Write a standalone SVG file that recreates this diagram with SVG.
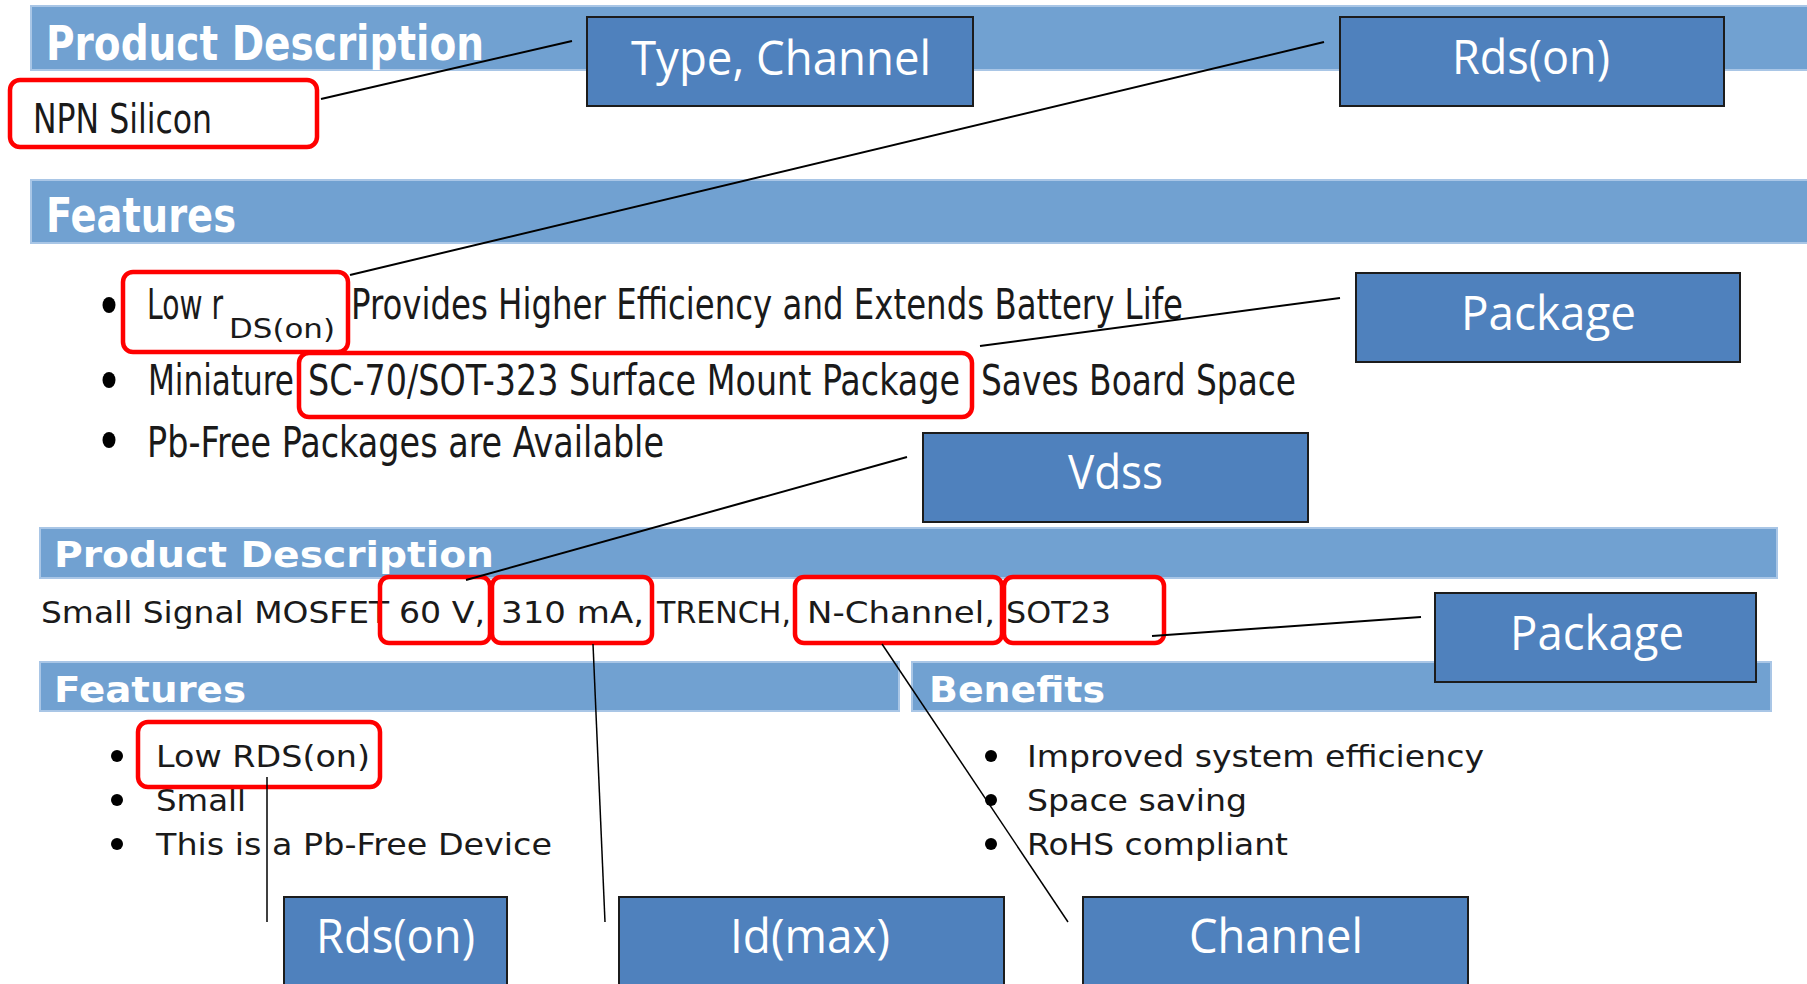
<svg xmlns="http://www.w3.org/2000/svg" width="1807" height="984" viewBox="0 0 1807 984">
<style>
.bar{fill:#71A1D1;stroke:#A9C6E6;stroke-width:2}
.bt{fill:#fff;font-family:"DejaVu Sans","Liberation Sans",sans-serif;font-weight:bold}
.bt1{fill:#fff;font-family:"DejaVu Sans","Liberation Sans",sans-serif;font-stretch:condensed;font-weight:bold}
.tx{fill:#1a1a1a;font-family:"DejaVu Sans","Liberation Sans",sans-serif}
.tc{fill:#1a1a1a;font-family:"DejaVu Sans","Liberation Sans",sans-serif;font-stretch:condensed}
.red{fill:none;stroke:#FF0000;stroke-width:4.5}
.box{fill:#4F81BD;stroke:#1c1c1c;stroke-width:2}
.bx{fill:#fff;font-family:"Open Sans","Noto Sans","Liberation Sans",sans-serif;font-size:48px}
.ln{stroke:#000;stroke-width:2;fill:none}
.ln2{stroke:#000;stroke-width:1.5;fill:none}
.dot{fill:#000}
</style>
<rect width="1807" height="984" fill="#fff"/>

<g id="source">
  <rect class="bar" x="31" y="6" width="1780" height="64"/>
  <text class="bt1" x="46" y="60" font-size="48" textLength="438" lengthAdjust="spacingAndGlyphs">Product Description</text>
  <rect class="bar" x="31" y="180" width="1780" height="63"/>
  <text class="bt1" x="46" y="232" font-size="48" textLength="190" lengthAdjust="spacingAndGlyphs">Features</text>

  <text class="tc" x="33" y="133" font-size="41" textLength="179" lengthAdjust="spacingAndGlyphs">NPN Silicon</text>

  <ellipse class="dot" cx="109" cy="305" rx="6.5" ry="8"/>
  <ellipse class="dot" cx="109" cy="380" rx="6.5" ry="8"/>
  <ellipse class="dot" cx="109" cy="440" rx="6.5" ry="8"/>
  <text class="tc" x="147" y="319" font-size="42" textLength="76" lengthAdjust="spacingAndGlyphs">Low r</text>
  <text class="tc" x="229" y="338" font-size="26" textLength="106" lengthAdjust="spacingAndGlyphs">DS(on)</text>
  <text class="tc" x="351" y="319" font-size="42" textLength="832" lengthAdjust="spacingAndGlyphs">Provides Higher Efficiency and Extends Battery Life</text>
  <text class="tc" x="148" y="395" font-size="42" textLength="146" lengthAdjust="spacingAndGlyphs">Miniature</text>
  <text class="tc" x="308" y="395" font-size="42" textLength="652" lengthAdjust="spacingAndGlyphs">SC-70/SOT-323 Surface Mount Package</text>
  <text class="tc" x="981" y="395" font-size="42" textLength="315" lengthAdjust="spacingAndGlyphs">Saves Board Space</text>
  <text class="tc" x="147" y="457" font-size="42" textLength="517" lengthAdjust="spacingAndGlyphs">Pb-Free Packages are Available</text>

  <rect class="bar" x="40" y="528" width="1737" height="50"/>
  <text class="bt" x="54" y="567" font-size="36" textLength="440" lengthAdjust="spacingAndGlyphs">Product Description</text>
  <text class="tx" x="41" y="623" font-size="30" textLength="348" lengthAdjust="spacingAndGlyphs">Small Signal MOSFET</text>
  <text class="tx" x="399" y="623" font-size="30" textLength="86" lengthAdjust="spacingAndGlyphs">60 V,</text>
  <text class="tx" x="501" y="623" font-size="30" textLength="143" lengthAdjust="spacingAndGlyphs">310 mA,</text>
  <text class="tx" x="657" y="623" font-size="30" textLength="134" lengthAdjust="spacingAndGlyphs">TRENCH,</text>
  <text class="tx" x="807" y="623" font-size="30" textLength="188" lengthAdjust="spacingAndGlyphs">N-Channel,</text>
  <text class="tx" x="1006" y="623" font-size="30" textLength="105" lengthAdjust="spacingAndGlyphs">SOT23</text>

  <rect class="bar" x="40" y="662" width="859" height="49"/>
  <text class="bt" x="54" y="702" font-size="36" textLength="192" lengthAdjust="spacingAndGlyphs">Features</text>
  <rect class="bar" x="912" y="662" width="859" height="49"/>
  <text class="bt" x="929" y="702" font-size="36" textLength="176" lengthAdjust="spacingAndGlyphs">Benefits</text>

  <circle class="dot" cx="117" cy="756" r="6"/>
  <circle class="dot" cx="117" cy="800" r="6"/>
  <circle class="dot" cx="117" cy="844" r="6"/>
  <text class="tx" x="156" y="767" font-size="30" textLength="214" lengthAdjust="spacingAndGlyphs">Low RDS(on)</text>
  <text class="tx" x="156" y="811" font-size="30" textLength="90" lengthAdjust="spacingAndGlyphs">Small</text>
  <text class="tx" x="156" y="855" font-size="30" textLength="396" lengthAdjust="spacingAndGlyphs">This is a Pb-Free Device</text>

  <circle class="dot" cx="991" cy="756" r="6"/>
  <circle class="dot" cx="991" cy="800" r="6"/>
  <circle class="dot" cx="991" cy="844" r="6"/>
  <text class="tx" x="1027" y="767" font-size="30" textLength="457" lengthAdjust="spacingAndGlyphs">Improved system efficiency</text>
  <text class="tx" x="1027" y="811" font-size="30" textLength="220" lengthAdjust="spacingAndGlyphs">Space saving</text>
  <text class="tx" x="1027" y="855" font-size="30" textLength="261" lengthAdjust="spacingAndGlyphs">RoHS compliant</text>
</g>

<g id="highlights">
  <rect id="hl-npn" class="red" x="10" y="80" width="307" height="67" rx="10"/>
  <rect id="hl-lowr" class="red" x="123" y="272" width="225" height="80" rx="10"/>
  <rect id="hl-sc70" class="red" x="299" y="353" width="673" height="64" rx="10"/>
  <rect id="hl-60v" class="red" x="380" y="577" width="110" height="66" rx="9"/>
  <rect id="hl-310ma" class="red" x="492" y="577" width="160" height="66" rx="9"/>
  <rect id="hl-nch" class="red" x="795" y="577" width="207" height="66" rx="9"/>
  <rect id="hl-sot23" class="red" x="1004" y="577" width="160" height="66" rx="9"/>
  <rect id="hl-lowrds" class="red" x="138" y="722" width="242" height="65" rx="10"/>
</g>

<g id="connectors">
  <line class="ln" x1="321" y1="99" x2="572" y2="41"/>
  <line class="ln" x1="350" y1="275" x2="1324" y2="42"/>
  <line class="ln" x1="980" y1="346" x2="1340" y2="298"/>
  <line class="ln" x1="466" y1="580" x2="907" y2="457"/>
  <line class="ln" x1="1152" y1="636" x2="1421" y2="617"/>
  <line class="ln2" x1="267" y1="777" x2="267" y2="922"/>
  <line class="ln2" x1="593" y1="644" x2="605" y2="922"/>
  <line class="ln2" x1="882" y1="644" x2="1068" y2="922"/>
</g>

<g id="n-type-channel">
  <rect class="box" x="587" y="17" width="386" height="89"/>
  <text class="bx" x="631" y="75" textLength="300" lengthAdjust="spacingAndGlyphs">Type, Channel</text>
</g>
<g id="n-rds-top">
  <rect class="box" x="1340" y="17" width="384" height="89"/>
  <text class="bx" x="1452" y="74" textLength="158" lengthAdjust="spacingAndGlyphs">Rds(on)</text>
</g>
<g id="n-package-top">
  <rect class="box" x="1356" y="273" width="384" height="89"/>
  <text class="bx" x="1461" y="330" textLength="175" lengthAdjust="spacingAndGlyphs">Package</text>
</g>
<g id="n-vdss">
  <rect class="box" x="923" y="433" width="385" height="89"/>
  <text class="bx" x="1068" y="489" textLength="95" lengthAdjust="spacingAndGlyphs">Vdss</text>
</g>
<g id="n-package-2">
  <rect class="box" x="1435" y="593" width="321" height="89"/>
  <text class="bx" x="1510" y="650" textLength="174" lengthAdjust="spacingAndGlyphs">Package</text>
</g>
<g id="n-rds-bottom">
  <rect class="box" x="284" y="897" width="223" height="100"/>
  <text class="bx" x="316" y="953" textLength="159" lengthAdjust="spacingAndGlyphs">Rds(on)</text>
</g>
<g id="n-idmax">
  <rect class="box" x="619" y="897" width="385" height="100"/>
  <text class="bx" x="730" y="953" textLength="160" lengthAdjust="spacingAndGlyphs">Id(max)</text>
</g>
<g id="n-channel">
  <rect class="box" x="1083" y="897" width="385" height="100"/>
  <text class="bx" x="1189" y="953" textLength="174" lengthAdjust="spacingAndGlyphs">Channel</text>
</g>
</svg>
